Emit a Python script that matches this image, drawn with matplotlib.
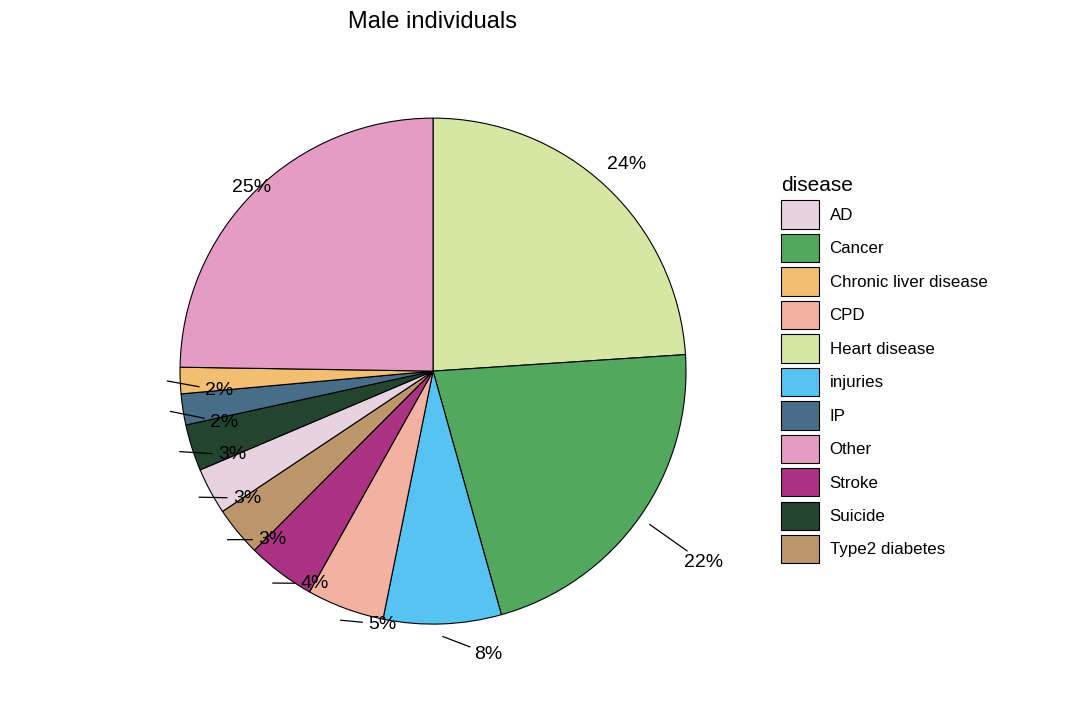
import matplotlib
matplotlib.use("Agg")
import matplotlib.pyplot as plt
import numpy as np
from matplotlib.patches import Patch

plt.rcParams['font.family'] = ['Liberation Sans', 'DejaVu Sans']

diseases = ["Heart disease", "Cancer", "injuries", "CPD", "Stroke", "Type2 diabetes",
            "AD", "Suicide", "IP", "Chronic liver disease", "Other"]
values = [24.2, 21.9, 7.6, 5.0, 4.4, 3.2, 3.0, 3.0, 2.0, 1.7, 25.0]
labels = ["24%", "22%", "8%", "5%", "4%", "3%", "3%", "3%", "2%", "2%", "25%"]
colors = {"AD": "#E6D3DF", "Cancer": "#53A85F", "Chronic liver disease": "#F2BE72",
          "CPD": "#F3B1A0", "Heart disease": "#D6E7A3", "injuries": "#57C3F3",
          "IP": "#476D87", "Other": "#E59CC4", "Stroke": "#AB3282",
          "Suicide": "#23452F", "Type2 diabetes": "#BD956A"}
legend_order = ["AD", "Cancer", "Chronic liver disease", "CPD", "Heart disease", "injuries",
                "IP", "Other", "Stroke", "Suicide", "Type2 diabetes"]
# label placement style (radius, angular shift in degrees, counterclockwise positive)
label_r = [1.12, 1.31, 1.14, 1.02, 0.96, 0.92, 0.89, 0.86, 0.85, 0.85, 1.02]
label_shift = [0, 0, 9, 9, 8, 7, 6, 5, 5, 3, 0]
draw_line = [False, True, True, True, True, True, True, True, True, True, False]

fig = plt.figure(figsize=(10.8, 7.06), dpi=100)
ax = fig.add_axes([0.1667, 0.116, 0.4685, 0.7167])
wedges, _ = ax.pie(values, colors=[colors[d] for d in diseases], startangle=90,
                   counterclock=False, radius=1,
                   wedgeprops=dict(edgecolor="black", linewidth=0.8))
ax.set_xlim(-1, 1); ax.set_ylim(-1, 1); ax.set_aspect("equal")
ax.axis("off")
for w, lab, r, sh, dl in zip(wedges, labels, label_r, label_shift, draw_line):
    mid = (w.theta1 + w.theta2) / 2
    th = np.deg2rad(mid)
    thl = np.deg2rad(mid + sh)
    lx, ly = r * np.cos(thl), r * np.sin(thl)
    if dl:
        sx, sy = 1.05 * np.cos(th), 1.05 * np.sin(th)
        d = np.hypot(lx - sx, ly - sy)
        f = max(d - 0.08, 0) / d if d > 0 else 0
        ax.plot([sx, sx + f * (lx - sx)], [sy, sy + f * (ly - sy)],
                color="black", lw=0.9, clip_on=False)
    ax.text(lx, ly, lab, ha="center", va="center", fontsize=14, clip_on=False)

fig.text(433 / 1080, 1 - 22 / 706, "Male individuals", ha="center", va="center", fontsize=17)

handles = [Patch(facecolor=colors[d], edgecolor="black", linewidth=0.8) for d in legend_order]
leg = fig.legend(handles, legend_order, loc="upper left", bbox_to_anchor=(766 / 1080, 1 - 161 / 706),
                 frameon=False, title="disease", fontsize=12.2, title_fontsize=15,
                 handlelength=2.2, handleheight=2.2, labelspacing=0.3, handletextpad=0.65)
leg._legend_box.align = "left"
fig.savefig("out.png", dpi=100, facecolor="white")
